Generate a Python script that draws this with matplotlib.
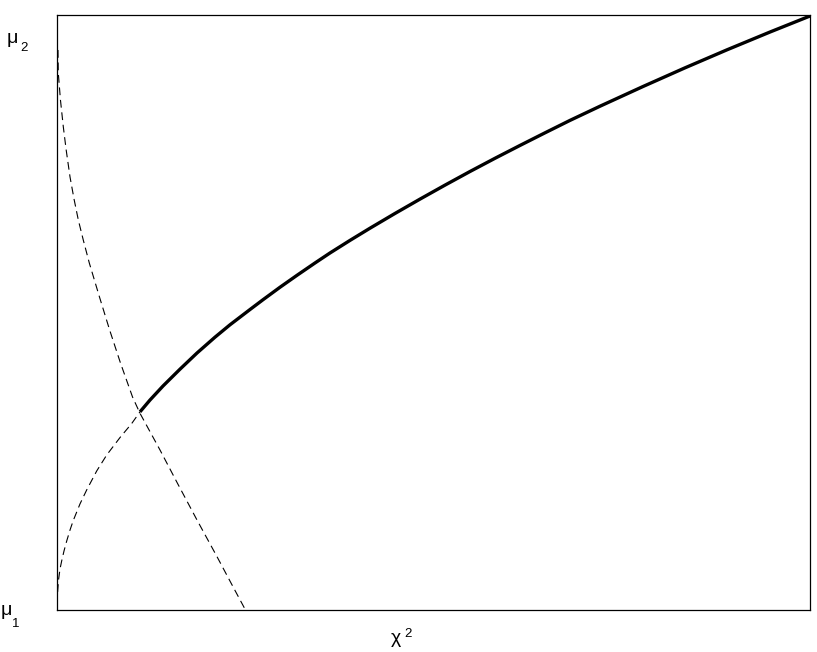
import matplotlib
matplotlib.use("Agg")
import matplotlib.pyplot as plt

plt.rcParams['font.family'] = ['Liberation Sans', 'DejaVu Sans']
plt.rcParams['lines.scale_dashes'] = False

# Solid branch (x and y in 0..100 axis units)
solid_x = [11.02, 12.35, 14.08, 16.33, 18.59, 20.98, 22.97, 25.63, 27.36, 29.61,
           31.87, 34.26, 36.25, 38.91, 41.57, 44.89, 48.21, 51.53, 54.85, 58.17,
           61.49, 64.81, 68.13, 72.11, 77.82, 83.40, 88.98, 94.69, 100.0]
solid_y = [33.30, 35.29, 37.65, 40.47, 43.19, 45.85, 47.93, 50.50, 52.15, 54.24,
           56.25, 58.32, 60.00, 62.12, 64.17, 66.65, 69.06, 71.41, 73.70, 75.92,
           78.08, 80.20, 82.29, 84.67, 87.98, 91.12, 94.15, 97.14, 99.83]

# Lower rising dashed branch
rise_x = [0.08, 0.20, 0.40, 0.62, 0.93, 1.29, 1.73, 2.16, 3.05, 3.94,
          5.27, 6.60, 8.37, 9.92, 11.02]
rise_y = [3.03, 5.04, 6.89, 8.24, 9.92, 11.60, 13.45, 15.04, 17.82, 20.17,
          23.36, 26.05, 28.99, 31.34, 33.30]

# Descending dashed curve
fall_x = [0.13, 0.17, 0.46, 0.84, 1.22, 1.73, 2.26, 2.83, 3.49, 4.29, 5.64,
          6.99, 8.43, 10.03, 11.02, 13.68, 16.00, 18.59, 21.25, 23.37, 25.03]
fall_y = [94.12, 90.25, 85.71, 81.18, 77.31, 72.77, 69.08, 65.55, 62.18, 58.32,
          52.61, 47.06, 41.51, 35.80, 33.06, 26.89, 21.29, 15.13, 8.96, 3.92, 0.0]

W, H = 817, 652
fig = plt.figure(figsize=(W / 100, H / 100), dpi=100)
ax = fig.add_axes([57 / W, 1 - 610 / H, (810 - 57) / W, (610 - 15) / H])

ax.plot(solid_x, solid_y, color='black', lw=2.4, solid_capstyle='butt',
        solid_joinstyle='round')
ax.plot(rise_x, rise_y, color='black', lw=0.8, dashes=(5.6, 3.4))
ax.plot(fall_x, fall_y, color='black', lw=0.8, dashes=(5.6, 3.4))

ax.set_xlim(0, 100)
ax.set_ylim(0, 100)
ax.set_xticks([])
ax.set_yticks([])
for s in ax.spines.values():
    s.set_linewidth(0.9)


def px(x, y):
    return x / W, 1 - y / H


fig.text(*px(7, 43), 'μ', ha='left', va='baseline', fontsize=14)
fig.text(*px(20, 51), '2', ha='left', va='baseline', fontsize=9.5)
fig.text(*px(1, 615), 'μ', ha='left', va='baseline', fontsize=14)
fig.text(*px(12, 627), '1', ha='left', va='baseline', fontsize=9.5)
fig.text(*px(391, 643), 'χ', ha='left', va='baseline', fontsize=14)
fig.text(*px(404, 637), '2', ha='left', va='baseline', fontsize=9.5)

fig.savefig('out.png', dpi=100)
